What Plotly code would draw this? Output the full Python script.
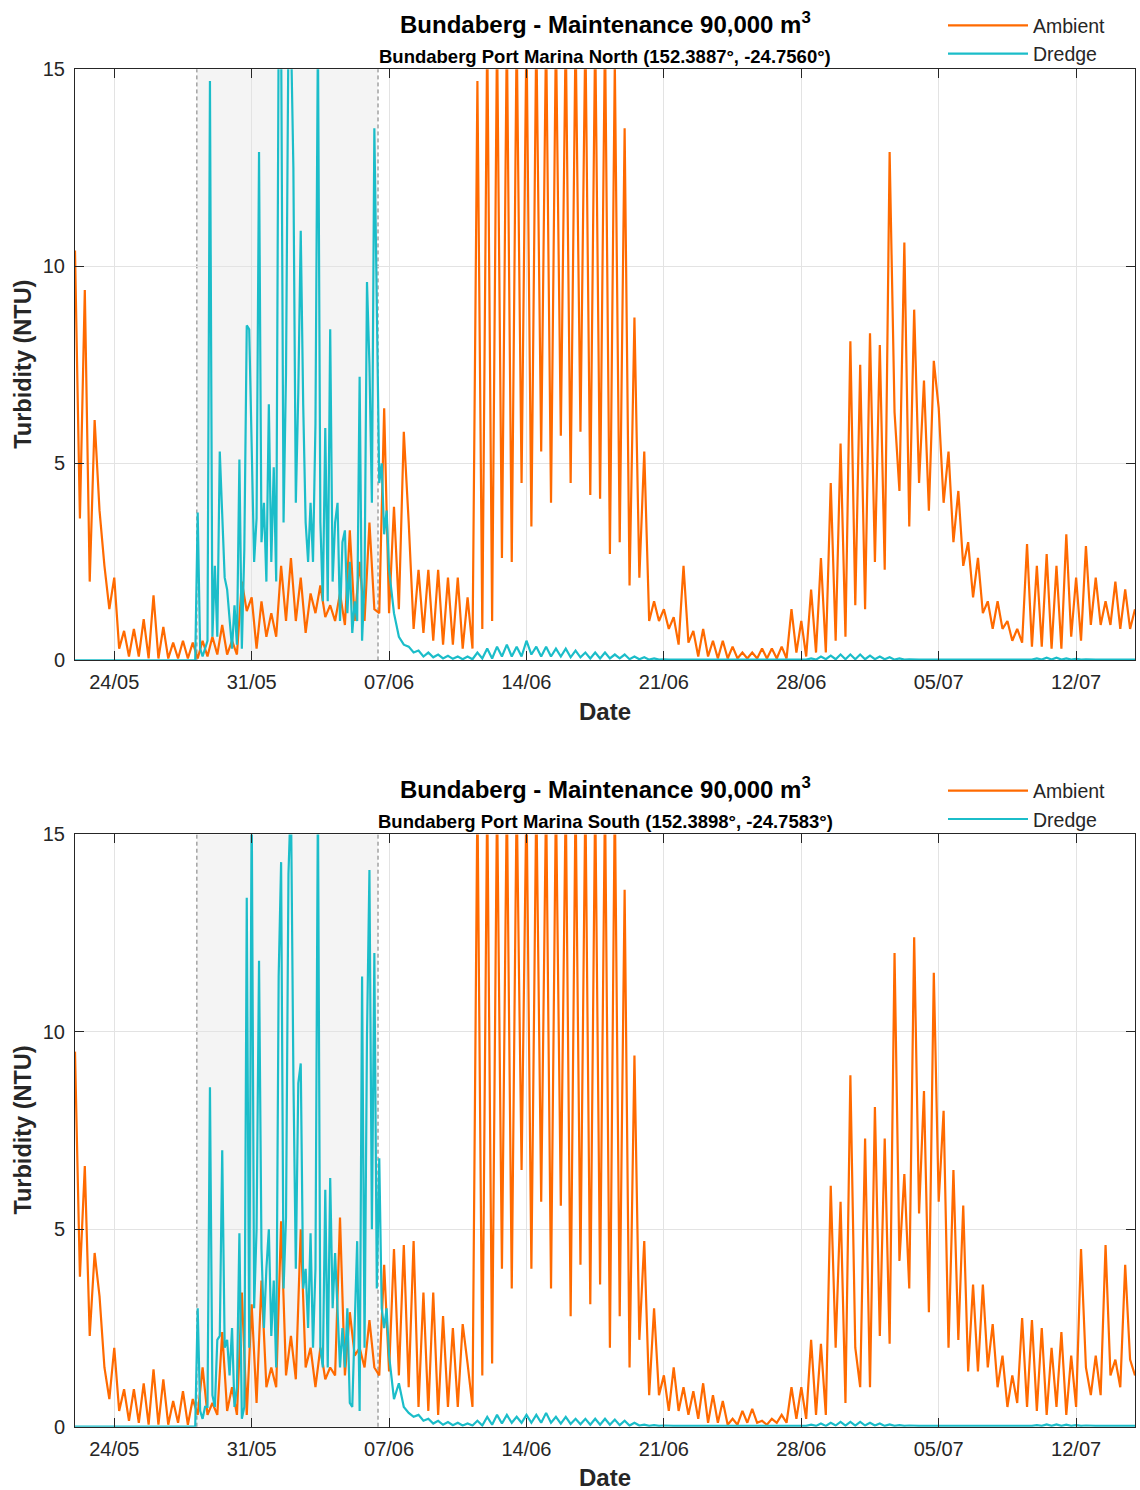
import pandas as pd
import plotly.graph_objects as go

# ---------------- data ----------------
START = "2023-05-22"
END = "2023-07-15"
DREDGE_START = "2023-05-28 05:00"
DREDGE_END = "2023-06-06 10:30"
tick_dates = ["2023-05-24", "2023-05-31", "2023-06-07", "2023-06-14",
              "2023-06-21", "2023-06-28", "2023-07-05", "2023-07-12"]
tick_labels = ["24/05", "31/05", "07/06", "14/06", "21/06", "28/06", "05/07", "12/07"]
y_ticks = [0, 5, 10, 15]

# Ambient, 6-hourly from 22/05 00:00
north_ambient = [
    10.4, 3.6, 9.4, 2.0,   6.1, 3.8, 2.4, 1.3,   2.1, 0.3, 0.75, 0.1,  0.8, 0.1, 1.05, 0.05,
    1.65, 0.05, 0.85, 0.05, 0.45, 0.05, 0.5, 0.05, 0.45, 0.05, 0.5, 0.1, 0.6, 0.15, 0.9, 0.15,
    0.5, 0.15, 2.0, 1.25,  1.6, 0.3, 1.5, 0.6,   1.2, 0.6, 2.4, 1.0,   2.6, 1.0, 2.1, 0.7,
    1.7, 1.2, 1.9, 1.1,    1.4, 1.0, 1.7, 0.9,   3.3, 1.0, 2.5, 1.0,   3.5, 1.3, 1.2, 6.4,
    1.2, 3.9, 1.3, 5.8,    3.5, 0.8, 2.3, 0.7,   2.3, 0.5, 2.3, 0.4,   2.1, 0.4, 2.1, 0.3,
    1.6, 0.3, 14.7, 0.8,   16, 1.0, 16, 2.6,     16, 2.5, 16, 4.5,     16, 3.4, 16, 5.3,
    16, 4.0, 16, 5.7,      16, 4.5, 16, 5.8,     16, 4.2, 16, 4.1,     16, 2.7, 15.2, 3.0,
    13.5, 1.9, 8.7, 2.1,   5.3, 1.0, 1.5, 1.0,   1.3, 0.8, 1.1, 0.4,   2.4, 0.45, 0.75, 0.1,
    0.8, 0.1, 0.5, 0.05,   0.5, 0.05, 0.35, 0.05, 0.2, 0.05, 0.2, 0.05, 0.3, 0.05, 0.3, 0.05,
    0.35, 0.05, 1.3, 0.2,  1.0, 0.1, 1.8, 0.2,   2.6, 0.2, 4.5, 0.5,   5.5, 0.6, 8.1, 1.4,
    7.5, 1.3, 8.3, 2.5,    8.0, 2.3, 12.9, 6.3,  4.3, 10.6, 3.4, 8.9,  4.5, 7.1, 3.8, 7.6,
    6.4, 4.0, 5.3, 3.0,    4.3, 2.4, 3.0, 1.6,   2.6, 1.2, 1.5, 0.8,   1.5, 0.8, 1.0, 0.5,
    0.8, 0.45, 2.95, 0.35, 2.4, 0.35, 2.7, 0.3,  2.4, 0.3, 3.2, 0.6,   2.1, 0.5, 2.9, 0.9,
    2.1, 0.9, 1.5, 0.9,    2.0, 0.8, 1.8, 0.8,   1.3,
]
south_ambient = [
    9.5, 3.8, 6.6, 2.3,    4.4, 3.3, 1.5, 0.7,   2.0, 0.4, 0.95, 0.15, 0.95, 0.1, 1.1, 0.05,
    1.45, 0.05, 1.2, 0.05, 0.65, 0.1, 0.9, 0.05, 0.7, 0.3, 1.5, 0.3,   0.6, 0.3, 2.4, 0.4,
    1.0, 0.3, 3.4, 0.3,    3.1, 0.6, 3.7, 1.0,   1.5, 1.0, 5.2, 1.3,   2.3, 1.2, 5.0, 1.5,
    2.0, 1.0, 2.0, 1.2,    1.5, 1.3, 5.3, 1.3,   2.9, 1.8, 2.0, 1.5,   2.7, 1.5, 1.3, 4.1,
    1.4, 4.5, 1.3, 4.6,    1.0, 4.7, 0.5, 3.4,   0.4, 3.4, 0.3, 2.8,   0.5, 2.5, 0.5, 2.6,
    1.6, 0.5, 16, 1.3,     16, 1.6, 16, 4.0,     16, 3.5, 16, 6.5,     16, 4.0, 16, 5.7,
    16, 3.5, 16, 5.6,      16, 2.8, 16, 4.1,     16, 3.1, 16, 3.6,     16, 2.0, 16, 2.8,
    13.6, 1.5, 9.4, 2.2,   4.7, 0.8, 3.0, 0.8,   1.3, 0.4, 1.5, 0.4,   1.0, 0.3, 0.9, 0.2,
    1.1, 0.1, 0.8, 0.1,    0.65, 0.05, 0.2, 0.05, 0.4, 0.1, 0.45, 0.1, 0.15, 0.05, 0.2, 0.1,
    0.3, 0.1, 1.0, 0.2,    1.0, 0.2, 2.2, 0.3,   2.1, 0.3, 6.1, 2.0,   5.7, 0.6, 8.9, 2.0,
    1.0, 7.3, 1.0, 8.1,    2.3, 7.3, 2.1, 12.0,  4.2, 6.4, 3.5, 12.4,  5.4, 8.5, 2.9, 11.5,
    5.7, 8.0, 2.0, 6.5,    2.2, 5.6, 1.4, 3.6,   1.4, 3.6, 1.5, 2.6,   1.0, 1.8, 0.5, 1.3,
    0.6, 2.75, 0.5, 2.7,   0.4, 2.5, 0.3, 2.0,   0.5, 2.4, 0.3, 1.8,   0.5, 4.5, 1.5, 0.8,
    1.8, 0.8, 4.6, 1.3,    1.7, 1.0, 4.1, 1.7,   1.3,
]

# Dredge: zero before the campaign, 3-hourly from 28/05 00:00 during it,
# then 6-hourly from 07/06 00:00
dredge_pre = [0.0]
north_dredge_active = [
    0, 0, 3.75, 0.3, 0.1, 0.3, 0.5, 14.7,
    0.6, 2.4, 0.6, 5.3, 3.8, 2.1, 1.8, 1.0,
    0.3, 1.4, 0.4, 5.1, 0.3, 2.8, 8.5, 8.4,
    5.5, 2.5, 3.6, 12.9, 3.0, 4.0, 2.0, 6.5,
    2.5, 4.9, 2.0, 16, 16, 3.5, 7.3, 16,
    16, 12.5, 4.0, 6.8, 10.9, 6.5, 3.5, 2.5,
    4.0, 2.5, 6.0, 16, 3.5, 1.5, 5.9, 1.5,
    8.4, 2.0, 3.5, 4.0, 1.0, 3.0, 3.3, 1.2,
    2.5, 0.7, 1.5, 1.0, 7.2, 0.5, 2.0, 9.6,
    7.5, 4.0, 13.5, 9.0, 4.5, 5.0, 3.2, 3.8,
]
north_dredge_tail = [
    2.3, 1.2, 0.6, 0.4,   0.35, 0.2, 0.25, 0.1,  0.2, 0.08, 0.15, 0.05, 0.12, 0.04, 0.1, 0.03,
    0.1, 0.03, 0.2, 0.05, 0.3, 0.05, 0.35, 0.1,  0.4, 0.1, 0.35, 0.1,   0.5, 0.15, 0.35, 0.1,
    0.35, 0.1, 0.3, 0.1,  0.3, 0.08, 0.25, 0.08, 0.2, 0.05, 0.2, 0.05,  0.2, 0.05, 0.15, 0.05,
    0.15, 0.03, 0.1, 0.03, 0.08, 0.02, 0.05, 0.02, 0.03, 0.02, 0.02, 0.02, 0.02, 0.02, 0.02, 0.02,
    0.02, 0.02, 0.02, 0.02, 0.02, 0.02, 0.02, 0.02, 0.02, 0.02, 0.02, 0.02, 0.02, 0.02, 0.02, 0.02,
    0.02, 0.02, 0.02, 0.02, 0.03, 0.02, 0.05, 0.02, 0.1, 0.03, 0.12, 0.03, 0.15, 0.03, 0.15, 0.03,
    0.15, 0.03, 0.12, 0.03, 0.1, 0.03, 0.08, 0.02, 0.05, 0.02, 0.03, 0.02, 0.02, 0.02, 0.02, 0.02,
    0.02, 0.02, 0.02, 0.02, 0.02, 0.02, 0.02, 0.02, 0.02, 0.02, 0.02, 0.02, 0.02, 0.02, 0.02, 0.02,
    0.02, 0.02, 0.02, 0.02, 0.05, 0.02, 0.07, 0.02, 0.07, 0.02, 0.05, 0.02, 0.04, 0.02, 0.03, 0.02,
    0.02, 0.02, 0.02, 0.02, 0.02, 0.02, 0.02, 0.02, 0.02,
]
south_dredge_active = [
    0, 0, 3.0, 0.4, 0.2, 0.5, 0.5, 8.6,
    0.8, 0.5, 2.2, 2.3, 7.0, 2.0, 2.2, 1.3,
    2.5, 0.5, 1.0, 4.9, 0.2, 0.5, 13.4, 2.0,
    16, 3.0, 5.0, 11.8, 4.5, 2.5, 4.0, 5.0,
    2.3, 3.7, 1.5, 11.4, 14.3, 3.5, 5.3, 14.0,
    16, 8.9, 4.0, 8.7, 9.2, 3.5, 4.0, 2.5,
    4.9, 2.0, 4.0, 16, 2.0, 1.5, 6.0, 1.5,
    6.3, 3.0, 4.4, 3.0, 1.5, 2.5, 1.5, 3.0,
    0.6, 0.5, 2.8, 4.7, 0.4, 11.4, 2.0, 9.9,
    14.1, 5.0, 12.0, 3.5, 6.8, 3.0, 2.5, 3.0,
]
south_dredge_tail = [
    1.8, 0.7, 1.1, 0.5,   0.35, 0.25, 0.3, 0.15, 0.2, 0.08, 0.15, 0.05, 0.12, 0.04, 0.1, 0.03,
    0.08, 0.03, 0.15, 0.03, 0.25, 0.05, 0.3, 0.08, 0.3, 0.1, 0.25, 0.1,  0.3, 0.1, 0.3, 0.1,
    0.35, 0.1, 0.25, 0.08, 0.25, 0.07, 0.2, 0.06, 0.2, 0.05, 0.2, 0.05,  0.2, 0.05, 0.18, 0.04,
    0.15, 0.03, 0.1, 0.03, 0.05, 0.02, 0.04, 0.02, 0.03, 0.02, 0.02, 0.02, 0.02, 0.02, 0.02, 0.02,
    0.02, 0.02, 0.02, 0.02, 0.02, 0.02, 0.02, 0.02, 0.02, 0.02, 0.02, 0.02, 0.02, 0.02, 0.02, 0.02,
    0.02, 0.02, 0.02, 0.02, 0.03, 0.02, 0.05, 0.02, 0.08, 0.02, 0.1, 0.03, 0.12, 0.03, 0.12, 0.03,
    0.12, 0.03, 0.1, 0.03, 0.08, 0.02, 0.06, 0.02, 0.04, 0.02, 0.03, 0.02, 0.02, 0.02, 0.02, 0.02,
    0.02, 0.02, 0.02, 0.02, 0.02, 0.02, 0.02, 0.02, 0.02, 0.02, 0.02, 0.02, 0.02, 0.02, 0.02, 0.02,
    0.02, 0.02, 0.02, 0.02, 0.04, 0.02, 0.06, 0.02, 0.06, 0.02, 0.05, 0.02, 0.04, 0.02, 0.03, 0.02,
    0.02, 0.02, 0.02, 0.02, 0.02, 0.02, 0.02, 0.02, 0.02,
]

panels = [
    ("Bundaberg Port Marina North (152.3887°, -24.7560°)", north_ambient,
     north_dredge_active, north_dredge_tail),
    ("Bundaberg Port Marina South (152.3898°, -24.7583°)", south_ambient,
     south_dredge_active, south_dredge_tail),
]
title_main = "Bundaberg - Maintenance 90,000 m<sup>3</sup>"

# ---------------- styling ----------------
# measured vertical mapping of the snapshot: shown_y = TOP + SCALE * figure_y
TOP, SCALE = 10.8, 0.985
W, H = 1140, 1502
ORANGE = "#FF6A00"
CYAN = "#1BBDC9"
AX = "#262626"
FONT = "Liberation Sans, Arial, Helvetica, sans-serif"
px_x0, px_x1 = 75, 1135


def fy(page_y):
    """paper fraction for a target pixel row of the picture"""
    return 1 - ((page_y - TOP) / SCALE) / H


plot_px = [(69, 660), (834, 1426)]   # top/bottom rows of the plot areas
legend_top = [6, 771]

fig = go.Figure()
annotations = []
shapes = []

for i, (subtitle, amb, d_act, d_tail) in enumerate(panels):
    n = i + 1
    xa = "x" if n == 1 else "x2"
    ya = "y" if n == 1 else "y2"
    leg = "legend" if n == 1 else "legend2"
    t_amb = pd.date_range(START, periods=len(amb), freq="6h")
    t_pre = pd.to_datetime([START])
    t_act = pd.date_range("2023-05-28", periods=len(d_act), freq="3h")
    t_tail = pd.date_range("2023-06-07", periods=len(d_tail), freq="6h")
    t_dr = t_pre.append(t_act).append(t_tail)
    v_dr = dredge_pre + d_act + d_tail

    fig.add_trace(go.Scatter(x=t_amb, y=amb, mode="lines", name="Ambient",
                             line=dict(color=ORANGE, width=2.2), xaxis=xa, yaxis=ya,
                             legend=leg))
    fig.add_trace(go.Scatter(x=t_dr, y=v_dr, mode="lines", name="Dredge",
                             line=dict(color=CYAN, width=2.2), xaxis=xa, yaxis=ya,
                             legend=leg))

    top_px, bot_px = plot_px[i]
    axis_common = dict(showline=True, linecolor=AX, linewidth=1, mirror="ticks",
                       ticks="inside", ticklen=9, tickcolor=AX, tickwidth=1,
                       showgrid=True, gridcolor="#E3E3E3", gridwidth=1, zeroline=False,
                       tickfont=dict(family=FONT, size=20, color=AX))
    xkey = "xaxis" if n == 1 else "xaxis2"
    ykey = "yaxis" if n == 1 else "yaxis2"
    fig.update_layout(**{
        xkey: dict(axis_common, type="date", range=[START, END],
                   domain=[px_x0 / W, px_x1 / W], tickvals=tick_dates,
                   ticktext=tick_labels, anchor=ya, ticklabelstandoff=4),
        ykey: dict(axis_common, range=[0, 15], domain=[fy(bot_px), fy(top_px)],
                   tickvals=y_ticks, anchor=xa, ticklabelstandoff=5),
    })

    # dredging period shading
    yref = "y domain" if n == 1 else "y2 domain"
    shapes.append(dict(type="rect", xref=xa, yref=yref, x0=DREDGE_START, x1=DREDGE_END,
                       y0=0, y1=1, fillcolor="#F4F4F4", line=dict(width=0), layer="below"))
    for xv in (DREDGE_START, DREDGE_END):
        shapes.append(dict(type="line", xref=xa, yref=yref, x0=xv, x1=xv, y0=0, y1=1,
                           line=dict(color="#777777", width=1, dash="4px,3px"),
                           layer="below"))

    cx = (px_x0 + px_x1) / 2 / W
    annotations += [
        dict(text="<b>" + title_main + "</b>", x=cx, y=fy(top_px - 46), xref="paper",
             yref="paper", showarrow=False, xanchor="center", yanchor="middle",
             font=dict(family=FONT, size=24, color="#000000")),
        dict(text="<b>" + subtitle + "</b>", x=cx, y=fy(top_px - 13), xref="paper",
             yref="paper", showarrow=False, xanchor="center", yanchor="middle",
             font=dict(family=FONT, size=18.5, color="#000000")),
        dict(text="<b>Date</b>", x=cx, y=fy(bot_px + 51), xref="paper", yref="paper",
             showarrow=False, xanchor="center", yanchor="middle",
             font=dict(family=FONT, size=24, color=AX)),
        dict(text="<b>Turbidity (NTU)</b>", x=23 / W, y=fy((top_px + bot_px) / 2),
             xref="paper", yref="paper", showarrow=False, textangle=-90,
             xanchor="center", yanchor="middle",
             font=dict(family=FONT, size=23.5, color=AX)),
    ]

legend_common = dict(xanchor="left", yanchor="top", bgcolor="rgba(0,0,0,0)",
                     font=dict(family=FONT, size=19.5, color=AX), itemwidth=80,
                     tracegroupgap=0)
fig.update_layout(
    width=W, height=H, margin=dict(l=0, r=0, t=0, b=0),
    paper_bgcolor="white", plot_bgcolor="white",
    showlegend=True,
    legend=dict(legend_common, x=943 / W, y=fy(legend_top[0])),
    legend2=dict(legend_common, x=943 / W, y=fy(legend_top[1])),
    annotations=annotations, shapes=shapes,
    font=dict(family=FONT),
)

fig.write_html("out.html", config={"displayModeBar": False},
               post_script="document.body.style.margin='0';"
                           "document.body.style.padding='0';")
